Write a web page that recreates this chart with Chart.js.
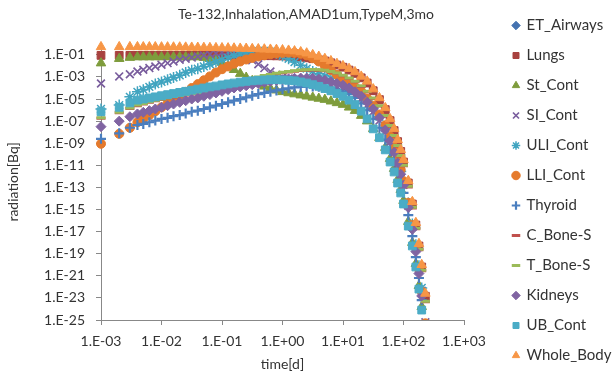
<!DOCTYPE html>
<html><head><meta charset="utf-8">
<script src="https://cdn.jsdelivr.net/npm/chart.js@4"></script>
<style>html,body{margin:0;padding:0;background:#fff}#wrap{width:612px;height:381px}</style>
</head><body><div id="wrap"><canvas id="c" width="612" height="381"></canvas></div>
<script>
// ---- data ----
const times = [0.001, 0.002, 0.003, 0.004, 0.005, 0.0063, 0.0079, 0.01, 0.0126, 0.0158, 0.02, 0.0251, 0.0316, 0.0398, 0.0501, 0.0631, 0.0794, 0.1, 0.126, 0.158, 0.2, 0.251, 0.316, 0.398, 0.501, 0.631, 0.794, 1, 1.26, 1.58, 2, 2.51, 3.16, 3.98, 5.01, 6.31, 7.94, 10, 12.6, 15.8, 20, 25.1, 31.6, 40, 50, 60, 70, 80, 90, 100, 120, 140, 160, 180, 200, 230];

const seriesNames = ['ET_Airways', 'Lungs', 'St_Cont', 'SI_Cont', 'ULI_Cont', 'LLI_Cont', 'Thyroid', 'C_Bone-S', 'T_Bone-S', 'Kidneys', 'UB_Cont', 'Whole_Body'];

const etAirways = [7.94e-2, 7.94e-2, 7.94e-2, 7.94e-2, 7.94e-2, 7.94e-2, 7.94e-2, 7.94e-2, 7.94e-2, 7.94e-2, 7.94e-2, 7.94e-2, 7.94e-2, 7.94e-2, 7.94e-2, 7.94e-2, 7.94e-2, 7.94e-2, 7.94e-2, 7.94e-2, 7.94e-2, 7.94e-2, 7.76e-2, 7.76e-2, 7.59e-2, 7.41e-2, 7.24e-2, 7.08e-2, 6.76e-2, 6.31e-2, 5.62e-2, 4.79e-2, 3.98e-2, 3.16e-2, 2.51e-2, 1.7e-2, 1.07e-2, 6.76e-3, 3.72e-3, 1.86e-3, 7.41e-4, 2.51e-4, 5.01e-5, 7.94e-6, 1.0e-6, 1.0e-7, 1.26e-8, 1.26e-9, 1.58e-10, 1.78e-11, 2.24e-13, 2.82e-15, 3.55e-17, 4.47e-19, 5.62e-21, 1.26e-23];
const lungs = [8.91e-2, 8.91e-2, 8.91e-2, 8.91e-2, 8.91e-2, 8.91e-2, 8.91e-2, 8.91e-2, 8.91e-2, 8.91e-2, 8.91e-2, 8.91e-2, 8.91e-2, 8.91e-2, 8.91e-2, 8.91e-2, 8.91e-2, 8.91e-2, 8.91e-2, 8.91e-2, 8.91e-2, 8.91e-2, 8.71e-2, 8.71e-2, 8.51e-2, 8.32e-2, 8.13e-2, 7.94e-2, 7.59e-2, 7.08e-2, 6.31e-2, 5.37e-2, 4.47e-2, 3.55e-2, 2.82e-2, 1.91e-2, 1.2e-2, 7.59e-3, 4.17e-3, 2.09e-3, 8.32e-4, 2.82e-4, 5.62e-5, 8.91e-6, 1.12e-6, 1.12e-7, 1.41e-8, 1.41e-9, 1.78e-10, 2.0e-11, 2.51e-13, 3.16e-15, 3.98e-17, 5.01e-19, 6.31e-21, 1.41e-23];
const stCont = [1.78e-2, 4.47e-2, 5.62e-2, 6.31e-2, 6.31e-2, 6.31e-2, 6.31e-2, 6.31e-2, 6.31e-2, 6.31e-2, 6.31e-2, 6.31e-2, 6.31e-2, 6.31e-2, 5.62e-2, 4.47e-2, 3.16e-2, 2.0e-2, 1.0e-2, 4.47e-3, 2.0e-3, 8.91e-4, 4.47e-4, 2.51e-4, 1.41e-4, 8.91e-5, 6.31e-5, 4.47e-5, 3.55e-5, 2.82e-5, 2.24e-5, 1.78e-5, 1.41e-5, 1.12e-5, 8.91e-6, 6.31e-6, 4.47e-6, 3.16e-6, 1.78e-6, 8.91e-7, 3.16e-7, 1.0e-7, 2.0e-8, 3.16e-9, 3.98e-10, 3.98e-11, 5.01e-12, 5.01e-13, 6.31e-14, 6.31e-15, 7.94e-17, 1.0e-18, 1.26e-20, 1.26e-22, 1.58e-24, 2.51e-27];
const siCont = [2.51e-4, 1.12e-3, 1.78e-3, 3.16e-3, 4.47e-3, 6.31e-3, 8.91e-3, 1.26e-2, 1.78e-2, 2.51e-2, 3.55e-2, 4.47e-2, 5.62e-2, 7.08e-2, 8.91e-2, 1.12e-1, 1.41e-1, 1.66e-1, 1.78e-1, 1.66e-1, 1.2e-1, 7.08e-2, 3.16e-2, 1.41e-2, 6.31e-3, 3.16e-3, 1.58e-3, 1.0e-3, 7.08e-4, 5.62e-4, 4.47e-4, 3.8e-4, 3.31e-4, 2.82e-4, 2.34e-4, 1.91e-4, 1.41e-4, 1.0e-4, 5.62e-5, 2.51e-5, 1.0e-5, 2.82e-6, 7.08e-7, 1.12e-7, 1.12e-8, 1.26e-9, 1.41e-10, 1.41e-11, 1.58e-12, 1.78e-13, 2.24e-15, 2.82e-17, 3.55e-19, 4.47e-21, 4.47e-23, 6.31e-26];
const uliCont = [1.26e-6, 2.82e-6, 1.58e-5, 4.47e-5, 7.08e-5, 1.26e-4, 2.24e-4, 3.55e-4, 5.62e-4, 8.91e-4, 1.41e-3, 2.51e-3, 3.98e-3, 5.62e-3, 8.91e-3, 1.41e-2, 2.24e-2, 3.55e-2, 5.62e-2, 8.32e-2, 1.2e-1, 1.58e-1, 2.0e-1, 2.24e-1, 2.24e-1, 1.91e-1, 1.32e-1, 7.94e-2, 4.47e-2, 2.24e-2, 1.12e-2, 5.62e-3, 3.16e-3, 1.91e-3, 1.2e-3, 7.59e-4, 4.79e-4, 2.82e-4, 1.58e-4, 7.08e-5, 2.51e-5, 7.08e-6, 1.58e-6, 2.51e-7, 2.24e-8, 2.24e-9, 2.51e-10, 2.51e-11, 2.82e-12, 3.16e-13, 3.98e-15, 5.01e-17, 6.31e-19, 7.94e-21, 7.94e-23, 2.5e-26];
const lliCont = [8.91e-10, 7.08e-9, 2.51e-8, 7.94e-8, 1.58e-7, 3.55e-7, 7.94e-7, 1.78e-6, 3.98e-6, 8.91e-6, 2.0e-5, 4.47e-5, 1.0e-4, 2.24e-4, 5.01e-4, 1.12e-3, 2.51e-3, 5.01e-3, 8.91e-3, 1.58e-2, 2.51e-2, 3.8e-2, 5.25e-2, 7.08e-2, 8.91e-2, 1.12e-1, 1.35e-1, 1.51e-1, 1.58e-1, 1.51e-1, 1.26e-1, 8.91e-2, 5.01e-2, 2.51e-2, 1.0e-2, 3.98e-3, 1.58e-3, 6.31e-4, 2.82e-4, 1.26e-4, 5.01e-5, 1.12e-5, 2.51e-6, 3.98e-7, 4.2e-8, 3.9e-9, 4.1e-10, 3.8e-11, 4.0e-12, 3.7e-13, 4.1e-15, 3.9e-17, 3.6e-19, 4.2e-21, 3.8e-23, 5.01e-26];
const thyroid = [2.51e-9, 7.94e-9, 2.51e-8, 4.47e-8, 5.62e-8, 7.94e-8, 1.12e-7, 1.58e-7, 2.0e-7, 2.82e-7, 3.55e-7, 5.01e-7, 7.08e-7, 8.91e-7, 1.26e-6, 1.78e-6, 2.51e-6, 3.55e-6, 5.01e-6, 7.08e-6, 1.0e-5, 1.41e-5, 2.0e-5, 2.82e-5, 3.55e-5, 4.68e-5, 6.03e-5, 7.59e-5, 9.33e-5, 1.12e-4, 1.26e-4, 1.35e-4, 1.38e-4, 1.32e-4, 1.17e-4, 9.55e-5, 7.08e-5, 5.01e-5, 2.82e-5, 1.26e-5, 3.98e-6, 1.0e-6, 1.58e-7, 2.51e-8, 2.0e-9, 2.0e-10, 2.51e-11, 2.51e-12, 3.16e-13, 3.16e-14, 3.16e-16, 3.98e-18, 5.01e-20, 6.31e-22, 6.31e-24, 1.0e-26];
const cBoneS = [1.8e-7, 5.7e-7, 1.4e-6, 2.5e-6, 3.6e-6, 5.1e-6, 7.1e-6, 9.0e-6, 1.1e-5, 1.4e-5, 1.8e-5, 2.3e-5, 2.8e-5, 3.6e-5, 4.5e-5, 5.7e-5, 8.0e-5, 1.1e-4, 1.6e-4, 2.3e-4, 3.2e-4, 4.5e-4, 6.4e-4, 9.0e-4, 1.2e-3, 1.5e-3, 1.9e-3, 2.4e-3, 2.8e-3, 3.3e-3, 3.8e-3, 4.1e-3, 4.2e-3, 4.0e-3, 3.6e-3, 2.8e-3, 2.0e-3, 1.3e-3, 7.1e-4, 3.6e-4, 1.4e-4, 4.5e-5, 1.1e-5, 2.3e-6, 2.8e-7, 3.6e-8, 4.5e-9, 5.7e-10, 7.1e-11, 9.0e-12, 1.1e-13, 1.4e-15, 1.8e-17, 2.3e-19, 2.8e-21, 4.5e-24];
const tBoneS = [2.0e-7, 6.31e-7, 1.58e-6, 2.82e-6, 3.98e-6, 5.62e-6, 7.94e-6, 1.0e-5, 1.26e-5, 1.58e-5, 2.0e-5, 2.51e-5, 3.16e-5, 3.98e-5, 5.01e-5, 6.31e-5, 8.91e-5, 1.26e-4, 1.78e-4, 2.51e-4, 3.55e-4, 5.01e-4, 7.08e-4, 1.0e-3, 1.32e-3, 1.7e-3, 2.14e-3, 2.63e-3, 3.16e-3, 3.72e-3, 4.17e-3, 4.57e-3, 4.68e-3, 4.47e-3, 3.98e-3, 3.16e-3, 2.24e-3, 1.41e-3, 7.94e-4, 3.98e-4, 1.58e-4, 5.01e-5, 1.26e-5, 2.51e-6, 3.16e-7, 3.98e-8, 5.01e-9, 6.31e-10, 7.94e-11, 1.0e-11, 1.26e-13, 1.58e-15, 2.0e-17, 2.51e-19, 3.16e-21, 5.01e-24];
const kidneys = [3.16e-8, 1.0e-7, 2.51e-7, 4.47e-7, 6.31e-7, 8.91e-7, 1.26e-6, 1.78e-6, 2.51e-6, 3.55e-6, 5.01e-6, 7.08e-6, 1.0e-5, 1.26e-5, 1.78e-5, 2.51e-5, 3.55e-5, 5.01e-5, 7.08e-5, 1.0e-4, 1.26e-4, 1.58e-4, 2.0e-4, 2.51e-4, 3.16e-4, 3.98e-4, 4.79e-4, 5.62e-4, 6.61e-4, 7.59e-4, 7.94e-4, 7.94e-4, 7.59e-4, 6.31e-4, 5.01e-4, 3.55e-4, 2.51e-4, 1.78e-4, 1.0e-4, 4.47e-5, 1.78e-5, 5.01e-6, 1.26e-6, 2.0e-7, 1.58e-8, 1.6e-9, 1.5e-10, 1.6e-11, 1.55e-12, 1.6e-13, 1.5e-15, 1.6e-17, 1.55e-19, 1.6e-21, 1.5e-23, 1.6e-26];
const ubCont = [7.08e-7, 1.78e-6, 4.47e-6, 7.94e-6, 1.0e-5, 1.26e-5, 1.58e-5, 2.0e-5, 2.51e-5, 3.16e-5, 3.98e-5, 5.01e-5, 6.31e-5, 7.94e-5, 1.0e-4, 1.26e-4, 1.51e-4, 1.91e-4, 2.34e-4, 2.82e-4, 3.39e-4, 3.98e-4, 4.47e-4, 5.01e-4, 5.37e-4, 5.62e-4, 5.62e-4, 5.37e-4, 5.01e-4, 4.47e-4, 3.55e-4, 2.82e-4, 2.0e-4, 1.41e-4, 8.91e-5, 5.62e-5, 3.16e-5, 1.78e-5, 7.94e-6, 3.16e-6, 7.94e-7, 1.58e-7, 2.0e-8, 3.16e-9, 2.51e-10, 2.0e-11, 2.51e-12, 2.51e-13, 3.16e-14, 3.16e-15, 3.16e-17, 5.01e-19, 6.31e-21, 6.31e-23, 7.94e-25, 1.0e-27];
const wholeBody = [5.25e-1, 5.25e-1, 5.25e-1, 5.25e-1, 5.13e-1, 5.13e-1, 5.13e-1, 5.0e-1, 5.0e-1, 4.9e-1, 4.9e-1, 4.79e-1, 4.68e-1, 4.57e-1, 4.47e-1, 4.37e-1, 4.27e-1, 4.17e-1, 4.07e-1, 3.98e-1, 3.8e-1, 3.72e-1, 3.55e-1, 3.39e-1, 3.24e-1, 3.09e-1, 2.95e-1, 2.75e-1, 2.51e-1, 2.19e-1, 1.82e-1, 1.41e-1, 1.0e-1, 7.08e-2, 4.47e-2, 2.82e-2, 1.58e-2, 1.0e-2, 5.62e-3, 2.82e-3, 1.12e-3, 3.98e-4, 7.94e-5, 1.26e-5, 1.58e-6, 1.58e-7, 2.0e-8, 2.0e-9, 2.51e-10, 3.16e-11, 3.98e-13, 5.01e-15, 6.31e-17, 7.94e-19, 1.0e-20, 2.51e-23];

const xTicks = [1e-3, 1e-2, 1e-1, 1e0, 1e1, 1e2, 1e3];
const xTickLabels = ['1.E-03', '1.E-02', '1.E-01', '1.E+00', '1.E+01', '1.E+02', '1.E+03'];
const yTicks = [1e-25, 1e-23, 1e-21, 1e-19, 1e-17, 1e-15, 1e-13, 1e-11, 1e-9, 1e-7, 1e-5, 1e-3, 1e-1];
const yTickLabels = ['1.E-25', '1.E-23', '1.E-21', '1.E-19', '1.E-17', '1.E-15', '1.E-13', '1.E-11', '1.E-09', '1.E-07', '1.E-05', '1.E-03', '1.E-01'];

const titleText = 'Te-132,Inhalation,AMAD1um,TypeM,3mo';
const xTitle = 'time[d]';
const yTitle = 'radiation[Bq]';

// ---- styles ----
const seriesValues = [etAirways, lungs, stCont, siCont, uliCont, lliCont, thyroid, cBoneS, tBoneS, kidneys, ubCont, wholeBody];
const markerStyles = [
  {color: '#4472B0', point: 'rectRot', radius: 3, bw: 1},
  {color: '#A8423F', point: 'rect', radius: 5.5, bw: 1},
  {color: '#7E9C3C', point: 'triangle', radius: 5.5, bw: 1},
  {color: '#7A5E9E', point: 'crossRot', radius: 5.5, bw: 1.7},
  {color: '#40A4C0', point: 'star', radius: 5.5, bw: 1.5},
  {color: '#E57A2C', point: 'circle', radius: 4.5, bw: 1},
  {color: '#4A7EBF', point: 'cross', radius: 5, bw: 2.2},
  {color: '#C0504D', point: 'line', radius: 4.5, bw: 3},
  {color: '#9BBB59', point: 'line', radius: 4.5, bw: 3},
  {color: '#8064A2', point: 'rectRot', radius: 5, bw: 1},
  {color: '#4BACC6', point: 'rect', radius: 5.5, bw: 1},
  {color: '#F79646', point: 'triangle', radius: 5.5, bw: 1}
];
const FONT = 'Lato';
const TEXT = '#333333';
const AXIS = '#888888';
const LEGEND_SHIFT = 34;

const datasets = seriesNames.map((name, i) => ({
  label: name,
  data: times.map((t, k) => ({x: t, y: seriesValues[i][k]})),
  pointStyle: markerStyles[i].point,
  pointRadius: markerStyles[i].radius,
  pointHoverRadius: markerStyles[i].radius,
  borderWidth: markerStyles[i].bw,
  backgroundColor: markerStyles[i].color,
  borderColor: markerStyles[i].color,
  showLine: false,
  order: seriesNames.length - 1 - i,
  clip: {left: 8, right: 8, top: 8, bottom: 0}
}));

const legendShift = {
  id: 'legendShift',
  afterLayout(chart) {
    const lg = chart.legend;
    if (lg) { lg.left += LEGEND_SHIFT; lg.right += LEGEND_SHIFT; }
  }
};

new Chart(document.getElementById('c'), {
  type: 'scatter',
  data: {datasets},
  plugins: [legendShift],
  options: {
    responsive: false,
    devicePixelRatio: 1,
    animation: false,
    events: [],
    layout: {padding: {left: 0, right: 0, top: 0, bottom: 0}},
    plugins: {
      tooltip: {enabled: false},
      title: {
        display: true, text: titleText, color: TEXT,
        font: {family: FONT, size: 14, weight: 'normal'},
        padding: {top: 6, bottom: 21}
      },
      legend: {
        position: 'right', align: 'center',
        labels: {
          usePointStyle: true, boxWidth: 6, boxHeight: 6, padding: 15,
          color: TEXT, font: {family: FONT, size: 15},
          sort: (a, b) => a.datasetIndex - b.datasetIndex
        }
      }
    },
    scales: {
      x: {
        type: 'logarithmic', min: 1e-3, max: 1e3,
        afterBuildTicks: (s) => { s.ticks = xTicks.map(v => ({value: v})); },
        afterFit: (s) => { s.height = 61; s.paddingRight = 148; },
        ticks: {
          autoSkip: false, maxRotation: 0, padding: 8, color: TEXT,
          font: {family: FONT, size: 14},
          callback: (v, i) => xTickLabels[i]
        },
        grid: {drawOnChartArea: false, drawTicks: true, tickLength: 5, color: AXIS, tickColor: AXIS},
        border: {display: true, color: AXIS, width: 1},
        title: {display: true, text: xTitle, color: TEXT, font: {family: FONT, size: 14}, padding: {top: 0, bottom: 8}}
      },
      y: {
        type: 'logarithmic', min: 1e-25, max: 1e0,
        afterBuildTicks: (s) => { s.ticks = yTicks.map(v => ({value: v})); },
        afterFit: (s) => { s.width = 101; },
        ticks: {
          autoSkip: false, padding: 11, color: TEXT,
          font: {family: FONT, size: 14},
          callback: (v, i) => yTickLabels[i]
        },
        grid: {drawOnChartArea: false, drawTicks: true, tickLength: 5, color: AXIS, tickColor: AXIS},
        border: {display: true, color: AXIS, width: 1},
        title: {display: true, text: yTitle, color: TEXT, font: {family: FONT, size: 14}, padding: {top: 5, bottom: 0}}
      }
    }
  }
});
</script>
</body></html>
